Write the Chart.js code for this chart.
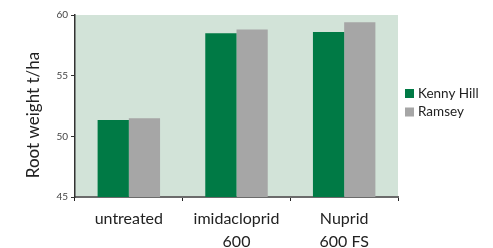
<!DOCTYPE html>
<html><head><meta charset="utf-8">
<script src="https://cdn.jsdelivr.net/npm/chart.js@4/dist/chart.umd.min.js"></script>
<style>html,body{margin:0;padding:0;background:#fff}#wrap{width:493px;height:248px;position:relative}</style>
</head><body><div id="wrap"><canvas id="c"></canvas></div>
<script>
const categories = [["untreated"], ["imidacloprid", "600"], ["Nuprid", "600 FS"]];
const kennyHill = [51.35, 58.5, 58.6];
const ramsey = [51.5, 58.8, 59.4];
const seriesNames = ["Kenny Hill", "Ramsey"];
const yTicks = [45, 50, 55, 60];
const yTitle = "Root weight t/ha";

const FONT = "Lato, 'Open Sans', sans-serif";

const bgPlugin = {
  id: 'bg',
  beforeDraw(chart) {
    const {ctx, chartArea: a} = chart;
    ctx.save();
    ctx.fillStyle = '#d2e3d8';
    ctx.fillRect(a.left, a.top, a.right - a.left, a.bottom - a.top);
    ctx.restore();
  }
};
const decorPlugin = {
  id: 'decor',
  afterDraw(chart) {
    const {ctx} = chart;
    ctx.save();
    ctx.font = '13.5px ' + FONT;
    ctx.textBaseline = 'middle';
    chart.data.datasets.forEach((ds, i) => {
      const y = 93.5 + i * 18.5;
      ctx.fillStyle = ds.backgroundColor;
      ctx.fillRect(405, y - 4.5, 9, 9);
      ctx.fillStyle = '#222';
      ctx.fillText(ds.label, 418, y);
    });
    // y axis title
    ctx.translate(34, 115);
    ctx.rotate(-Math.PI / 2);
    ctx.font = '17px ' + FONT;
    ctx.textAlign = 'center';
    ctx.fillStyle = '#222';
    ctx.fillText(yTitle, 0, 0);
    ctx.restore();
  }
};

new Chart(document.getElementById('c'), {
  type: 'bar',
  data: {
    labels: categories,
    datasets: [
      {label: seriesNames[0], data: kennyHill, backgroundColor: '#007a45'},
      {label: seriesNames[1], data: ramsey, backgroundColor: '#a6a6a6'}
    ]
  },
  options: {
    responsive: true,
    maintainAspectRatio: false,
    animation: false,
    layout: {padding: {left: 0, right: 95, top: 15, bottom: 0}},
    datasets: {bar: {categoryPercentage: 0.58, barPercentage: 1.0}},
    plugins: {legend: {display: false}, tooltip: {enabled: false}},
    scales: {
      x: {
        offset: true,
        grid: {display: true, drawOnChartArea: false, drawTicks: true, tickLength: 4, color: '#222', offset: true},
        border: {display: true, color: '#6b6b6b', width: 2},
        ticks: {font: {family: FONT, size: 16, lineHeight: '23px'}, color: '#222', padding: 6, maxRotation: 0, autoSkip: false},
        afterFit(s) { s.height = 51; }
      },
      y: {
        min: 45, max: 60,
        afterBuildTicks(s) { s.ticks = yTicks.map(v => ({value: v})); },
        grid: {display: true, drawOnChartArea: false, drawTicks: true, tickLength: 4, color: '#333'},
        border: {display: true, color: '#333', width: 1.5},
        ticks: {font: {family: FONT, size: 10}, color: '#444', padding: 3},
        afterFit(s) { s.width = 75; }
      }
    }
  },
  plugins: [bgPlugin, decorPlugin]
});
</script></body></html>
